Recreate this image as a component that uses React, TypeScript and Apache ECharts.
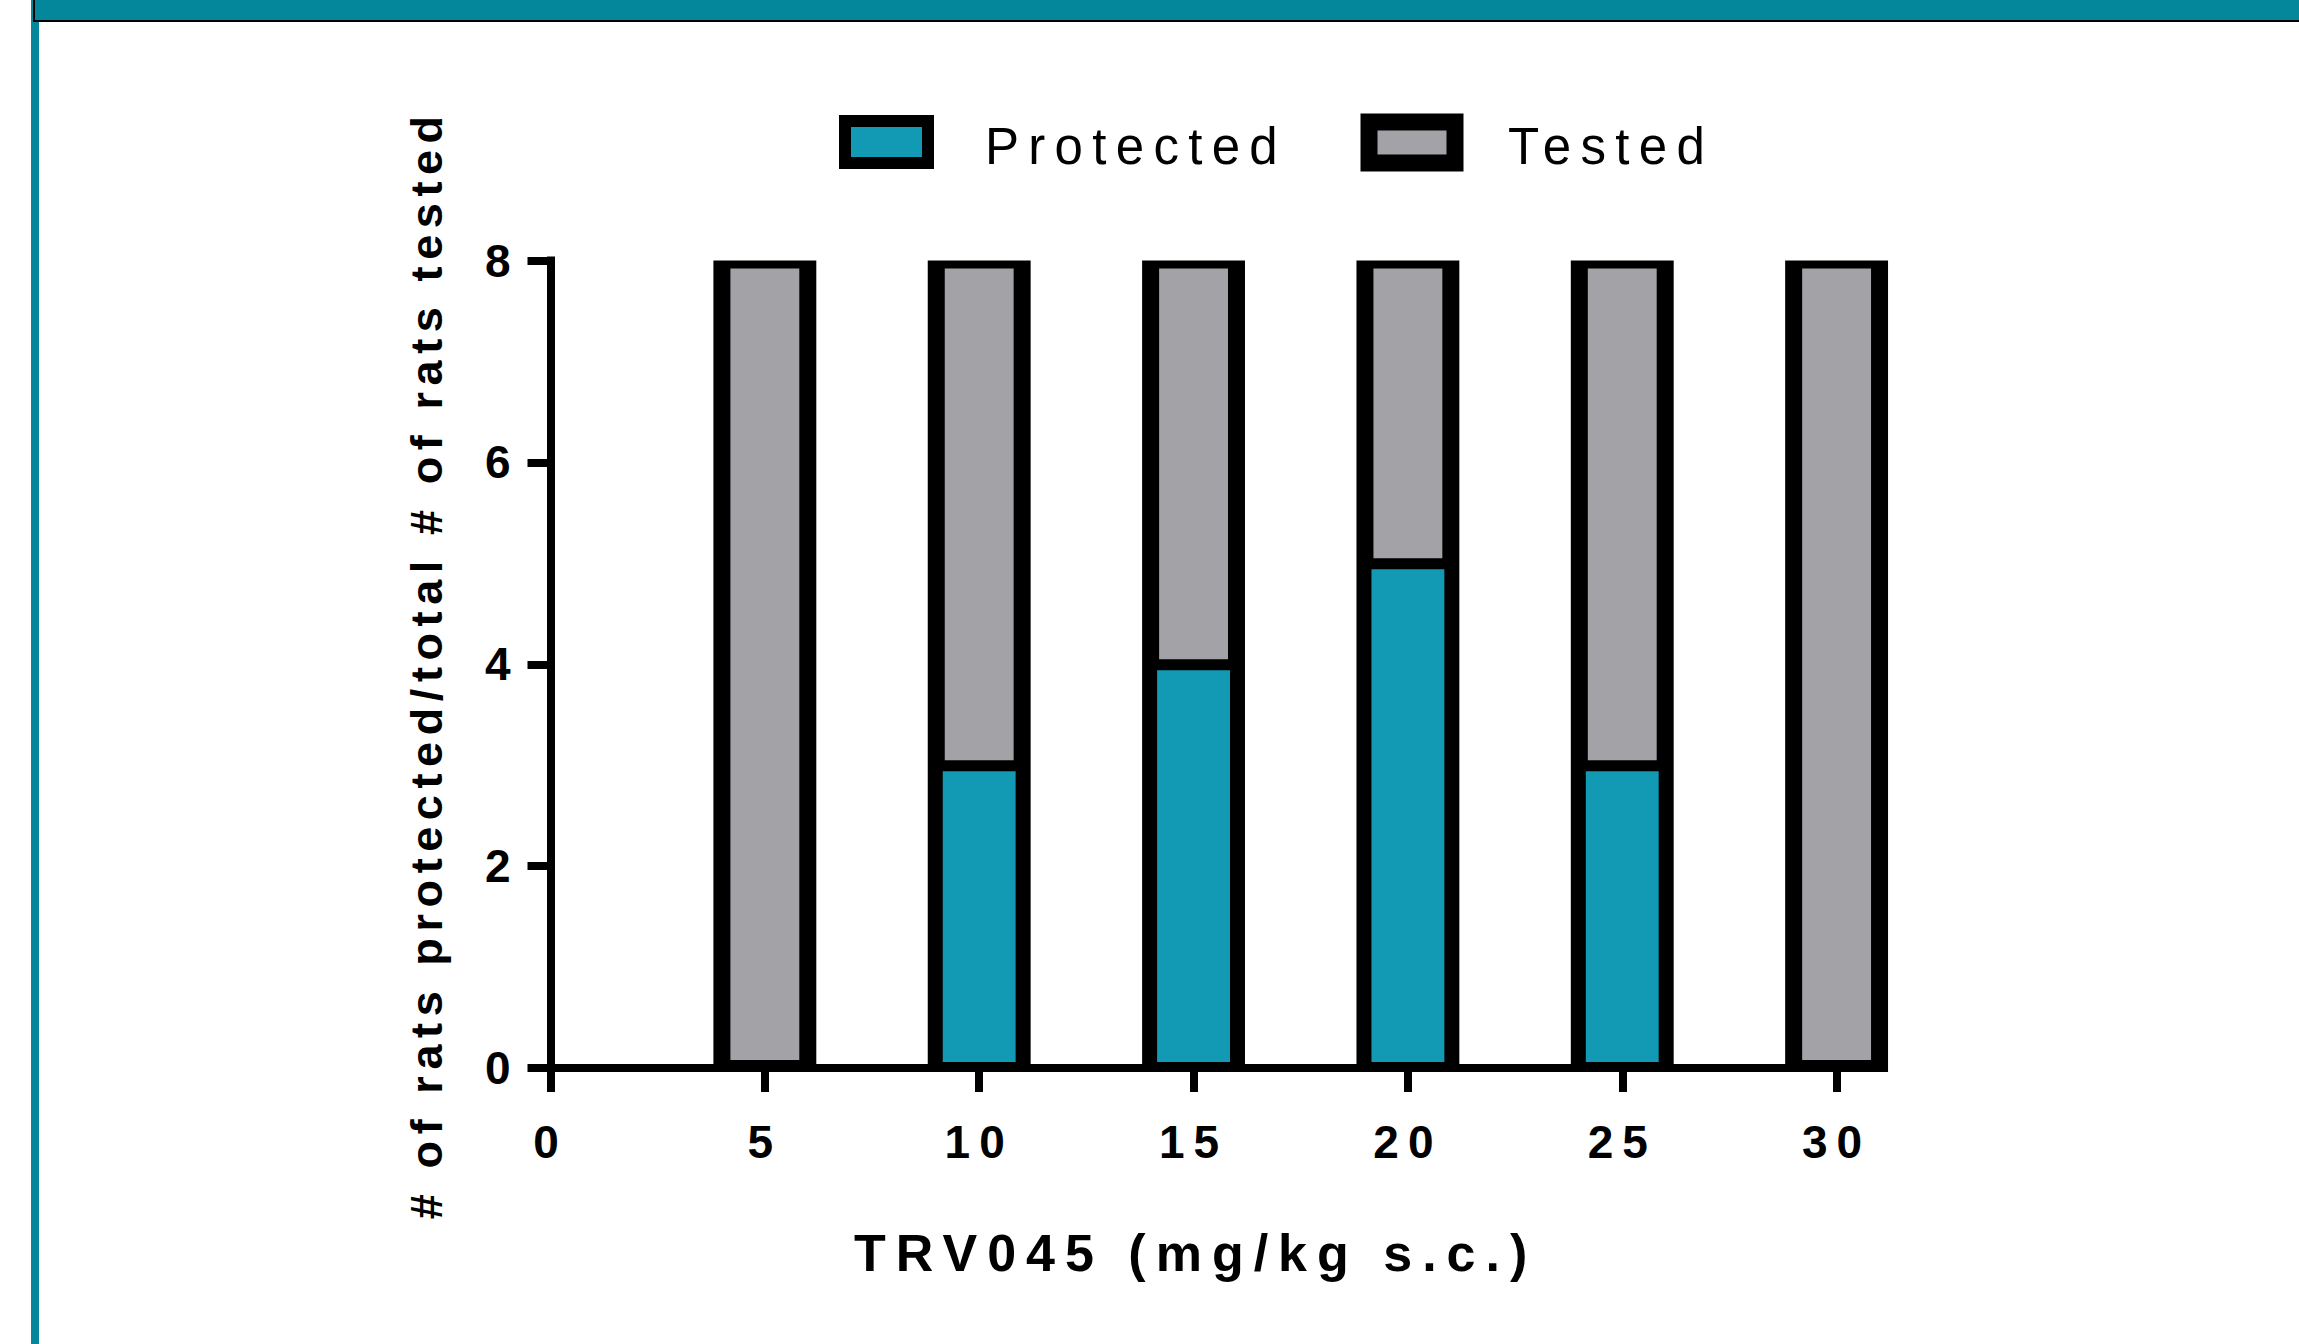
import React, { useEffect, useRef } from "react";
import * as echarts from "echarts";

// ---- data ----
const doses = [5, 10, 15, 20, 25, 30];
const testedCounts = [8, 8, 8, 8, 8, 8];
const protectedCounts = [0, 3, 4, 5, 3, 0];
const xTickValues = [0, 5, 10, 15, 20, 25, 30];
const seriesNames = ["Protected", "Tested"];
const xAxisTitle = "TRV045 (mg/kg s.c.)";
const yAxisTitle = "# of rats protected/total # of rats tested";

// ---- style ----
const FONT = "'Liberation Sans', Arial, Helvetica, sans-serif";
const TEAL = "#129AB4";
const GRAY = "#A3A2A7";
const FRAME = "#04879A";
const BAR_UNITS = 2.4;

const css = `
.chartbox text[style*="46px"] { letter-spacing: 9px; }
.chartbox text[style*="45px"] { letter-spacing: 6.6px; }
.chartbox text[style*="51px"] { letter-spacing: 9.3px; translate: 0 4px; }
.chartbox text[style*="52px"] { letter-spacing: 10px; }
`;

export default function App() {
  const ref = useRef<HTMLDivElement>(null);

  useEffect(() => {
    if (!ref.current) return;
    const chart = echarts.init(ref.current, null, { renderer: "svg" });

    const testedData = doses.map((d, i) => [d, testedCounts[i], protectedCounts[i]]);
    const protectedData = doses.map((d, i) => [d, protectedCounts[i]]);

    const option: any = {
      animation: false,
      backgroundColor: "#fff",
      graphic: [
        {
          type: "rect",
          shape: { x: 31, y: 0, width: 8, height: 1344 },
          style: { fill: FRAME },
          z: 100,
        },
        {
          type: "rect",
          shape: { x: 34, y: -10, width: 2300, height: 31 },
          style: { fill: FRAME, stroke: "#000", lineWidth: 2 },
          z: 101,
        },
      ],
      legend: [
        {
          data: [seriesNames[0]],
          left: 834,
          top: 110,
          itemWidth: 83,
          itemHeight: 42,
          icon: "rect",
          selectedMode: false,
          itemStyle: { color: TEAL, borderColor: "#000", borderWidth: 12 },
          textStyle: {
            fontFamily: FONT,
            fontSize: 51,
            color: "#000",
            padding: [30, 0, 0, 52],
          },
        },
        {
          data: [seriesNames[1]],
          left: 1355.5,
          top: 108.5,
          itemWidth: 86,
          itemHeight: 41,
          icon: "rect",
          selectedMode: false,
          itemStyle: { color: GRAY, borderColor: "#000", borderWidth: 17 },
          textStyle: {
            fontFamily: FONT,
            fontSize: 51,
            color: "#000",
            padding: [30, 0, 0, 48],
          },
        },
      ],
      grid: {
        left: 550.5,
        right: 416.1,
        top: 260.5,
        bottom: 276,
        containLabel: false,
        outerBoundsMode: "none",
      },
      xAxis: {
        type: "value",
        min: 0,
        max: 31.08,
        axisLine: { show: true, lineStyle: { color: "#000", width: 8, cap: "square" } },
        axisTick: {
          show: true,
          length: 24,
          customValues: xTickValues,
          lineStyle: { color: "#000", width: 8 },
        },
        axisLabel: {
          customValues: xTickValues,
          margin: 51,
          fontFamily: FONT,
          fontSize: 46,
          fontWeight: "bold",
          color: "#000",
        },
        splitLine: { show: false },
        name: xAxisTitle,
        nameLocation: "middle",
        nameGap: 159,
        nameTextStyle: {
          fontFamily: FONT,
          fontSize: 52,
          fontWeight: "bold",
          color: "#000",
          padding: [0, 42, 0, 0],
        },
      },
      yAxis: {
        type: "value",
        min: 0,
        max: 8,
        interval: 2,
        axisLine: { show: true, lineStyle: { color: "#000", width: 8, cap: "square" } },
        axisTick: { show: true, length: 23, lineStyle: { color: "#000", width: 8 } },
        axisLabel: {
          margin: 31,
          fontFamily: FONT,
          fontSize: 46,
          fontWeight: "bold",
          color: "#000",
          padding: [8, 0, 0, 0],
        },
        splitLine: { show: false },
        name: yAxisTitle,
        nameLocation: "middle",
        nameGap: 102,
        nameTextStyle: {
          fontFamily: FONT,
          fontSize: 45,
          fontWeight: "bold",
          color: "#000",
        },
      },
      series: [
        {
          type: "custom",
          name: seriesNames[1],
          data: testedData,
          encode: { x: 0, y: 1 },
          itemStyle: { color: GRAY },
          z: 2,
          renderItem: (params: any, api: any) => {
            const x = api.value(0);
            const t = api.value(1);
            const p = api.value(2);
            const top = api.coord([x, t]);
            const base = api.coord([x, 0]);
            const pc = api.coord([x, p]);
            const w = api.size([BAR_UNITS, 0])[0];
            const cx = top[0];
            const innerBottom = p > 0 ? pc[1] - 5 : base[1] - 8;
            return {
              type: "group",
              children: [
                {
                  type: "rect",
                  shape: { x: cx - w / 2, y: top[1], width: w, height: base[1] + 4 - top[1] },
                  style: { fill: "#000" },
                },
                {
                  type: "rect",
                  shape: {
                    x: cx - w / 2 + 17,
                    y: top[1] + 8,
                    width: w - 34,
                    height: innerBottom - top[1] - 8,
                  },
                  style: { fill: GRAY },
                },
              ],
            };
          },
        },
        {
          type: "custom",
          name: seriesNames[0],
          data: protectedData,
          encode: { x: 0, y: 1 },
          itemStyle: { color: TEAL },
          z: 3,
          renderItem: (params: any, api: any) => {
            const x = api.value(0);
            const p = api.value(1);
            if (!(p > 0)) return { type: "group", children: [] };
            const pc = api.coord([x, p]);
            const base = api.coord([x, 0]);
            const w = api.size([BAR_UNITS, 0])[0];
            const cx = pc[0];
            return {
              type: "rect",
              shape: {
                x: cx - w / 2 + 15,
                y: pc[1] + 6,
                width: w - 30,
                height: base[1] - 6 - (pc[1] + 6),
              },
              style: { fill: TEAL },
            };
          },
        },
      ],
    };

    chart.setOption(option);
    return () => {
      chart.dispose();
    };
  }, []);

  return (
    <>
      <style>{css}</style>
      <div
        ref={ref}
        className="chartbox"
        style={{ position: "absolute", left: 0, top: 0, width: 2299, height: 1344 }}
      />
    </>
  );
}
